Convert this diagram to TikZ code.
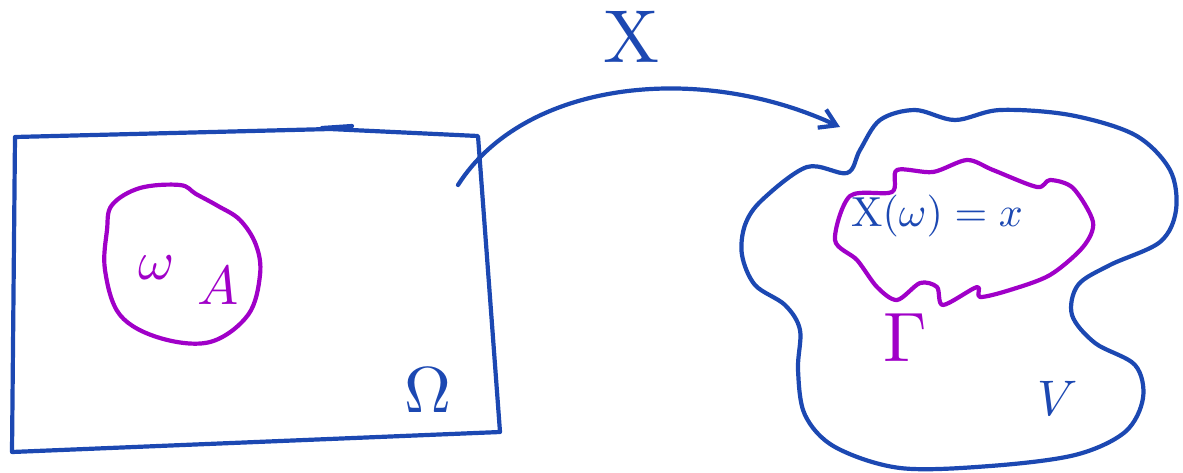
\documentclass[tikz,border=0pt]{standalone}
\usetikzlibrary{arrows.meta}
\definecolor{inkblue}{RGB}{28,72,178}
\definecolor{inkpurple}{RGB}{160,0,200}
\begin{document}
\begin{tikzpicture}[x=1pt, y=-1pt, line width=4.2pt, line cap=round, line join=round,
  pen/.style={draw=inkblue}, marker/.style={draw=inkpurple},
  bluetext/.style={text=inkblue, inner sep=0pt}, purpletext/.style={text=inkpurple, inner sep=0pt}]
\useasboundingbox (0,0) rectangle (1183,472);
% the set Omega
\draw[pen] (15,137) -- (330,129) -- (478,136) -- (500,432) -- (12,452) -- cycle;
\draw[pen] (322,128) -- (352,126);
\node[bluetext, scale=6.5] (omegaset) at (428,390) {$\Omega$};
% the event A
\draw[marker] plot[smooth cycle, tension=0.6] coordinates {(112,205) (140,188) (180,185) (196,194) (218,206) (240,220) (256,245) (260,275) (248,315) (210,342) (160,338) (120,315) (105,270) (107,230)};
\node[purpletext, scale=5.5] (omega) at (157,268) {$\omega$};
\node[purpletext, scale=5.5] (seta) at (218,286) {$A$};
% the map X
\coordinate (arrstart) at (458,185);
\coordinate (arrend) at (840,127);
\draw[pen, -{Straight Barb[length=16pt, width=20pt]}] (arrstart) .. controls (525,80) and (700,62) .. (arrend);
\node[bluetext, scale=7.5] (mapx) at (632,37) {$\mathrm{X}$};
% the space V
\draw[pen] plot[smooth cycle, tension=0.55] coordinates {(762,200) (807,167) (847,173) (860,150) (880,120) (915,110) (955,120) (1000,110) (1070,115) (1135,135) (1170,170) (1176,210) (1160,242) (1110,265) (1078,285) (1072,315) (1095,343) (1135,365) (1143,398) (1125,432) (1075,455) (990,466) (900,468) (835,447) (805,415) (798,370) (800,330) (785,305) (755,285) (742,255) (745,225)};
\node[bluetext, scale=5] (space) at (1058,398) {$V$};
% the preimage set Gamma
\draw[marker] plot[smooth cycle, tension=0.5] coordinates {(835,240) (850,196) (892,192) (897,170) (933,172) (967,160) (993,170) (1037,187) (1050,180) (1073,188) (1093,222) (1083,247) (1050,275) (1010,290) (980,297) (977,287) (943,305) (937,287) (920,283) (897,300) (877,287) (857,260)};
\node[bluetext, scale=4.2] (value) at (937,216) {$\mathrm{X}(\omega) = x$};
\node[purpletext, scale=7] (gamma) at (905,338) {$\Gamma$};
\end{tikzpicture}
\end{document}
